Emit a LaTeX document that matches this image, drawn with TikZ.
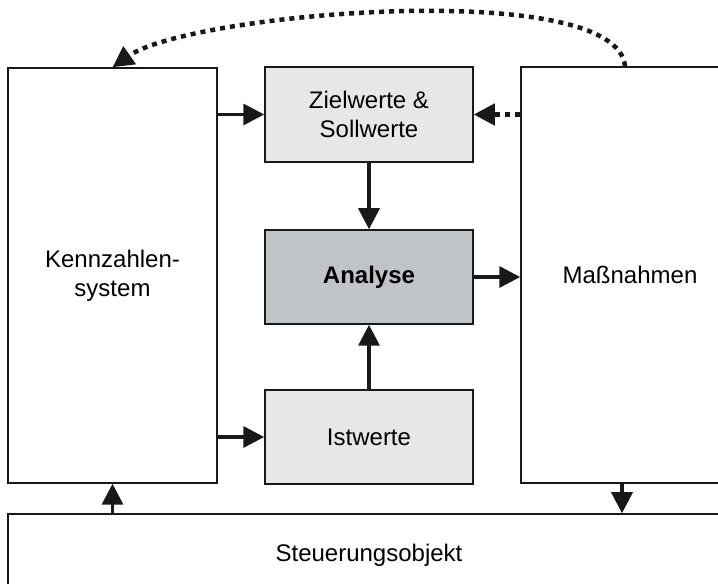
\documentclass[tikz,border=0pt]{standalone}
\usepackage{fontspec}
\setmainfont{Liberation Sans}
\usepackage{tikz}
\usetikzlibrary{%
  calc,
  positioning,
  arrows.meta,
}
\definecolor{lightfill}{RGB}{230,231,233}
\definecolor{darkfill}{RGB}{192,196,201}

\begin{document}
\begin{tikzpicture}[x=1pt, y=1pt,
    box/.style = {draw = black!90, line width = 1.5pt,
      inner sep = 0pt, align = center,
      font = \fontsize{24}{29}\selectfont},
    flow/.style = {line width = 3.5pt, black!90,
      -{Triangle[length = 21pt, width = 21pt]}},
    dotline/.style = {flow, line width = 4.5pt,
      dash pattern = on 5pt off 5pt},
  ]
  \useasboundingbox (0,0) rectangle (718,584);
  \clip (0,0) rectangle (718,584);

  % outer boxes
  \node[box, minimum width = 209pt, minimum height = 415pt]
    (kenn) at (112.5,308.5) {Kennzahlen-\\system};
  \node[box, minimum width = 218pt, minimum height = 416pt]
    (mass) at (630,309) {Maßnahmen};
  \node[box, minimum width = 722pt, minimum height = 82pt]
    (steuer) at (369,29) {Steuerungsobjekt};

  % middle column
  \node[box, fill = lightfill, minimum width = 208pt,
    minimum height = 95pt] (ziel) at (369,469.5)
    {Zielwerte \&\\Sollwerte};
  \node[box, fill = darkfill, minimum width = 208pt,
    minimum height = 94pt] (ana) at (369,307)
    {\textbf{Analyse}};
  \node[box, fill = lightfill, minimum width = 208pt,
    minimum height = 94pt] (ist) at (369,147) {Istwerte};

  \draw[flow] (kenn.east |- ziel) -- (ziel.west);
  \draw[flow] (kenn.east |- ist) -- (ist.west);
  \draw[flow] (ziel.south) -- (ana.north);
  \draw[flow] (ist.north) -- (ana.north |- ana.south);
  \draw[flow] (ana.east) -- (ana.east -| mass.west);
  \draw[dotline] (mass.west |- ziel) -- (ziel.east);

  \draw[flow] (steuer.north -| kenn) -- (kenn.south);
  \coordinate (M) at ([xshift = -8pt]mass.south);
  \draw[flow] (M) -- (M |- steuer.north);

  % feedback arc
  \draw[dotline]
    ([xshift = -5pt]mass.north)
    .. controls +(95:90) and +(35:95) .. (kenn.north);
\end{tikzpicture}
\end{document}
